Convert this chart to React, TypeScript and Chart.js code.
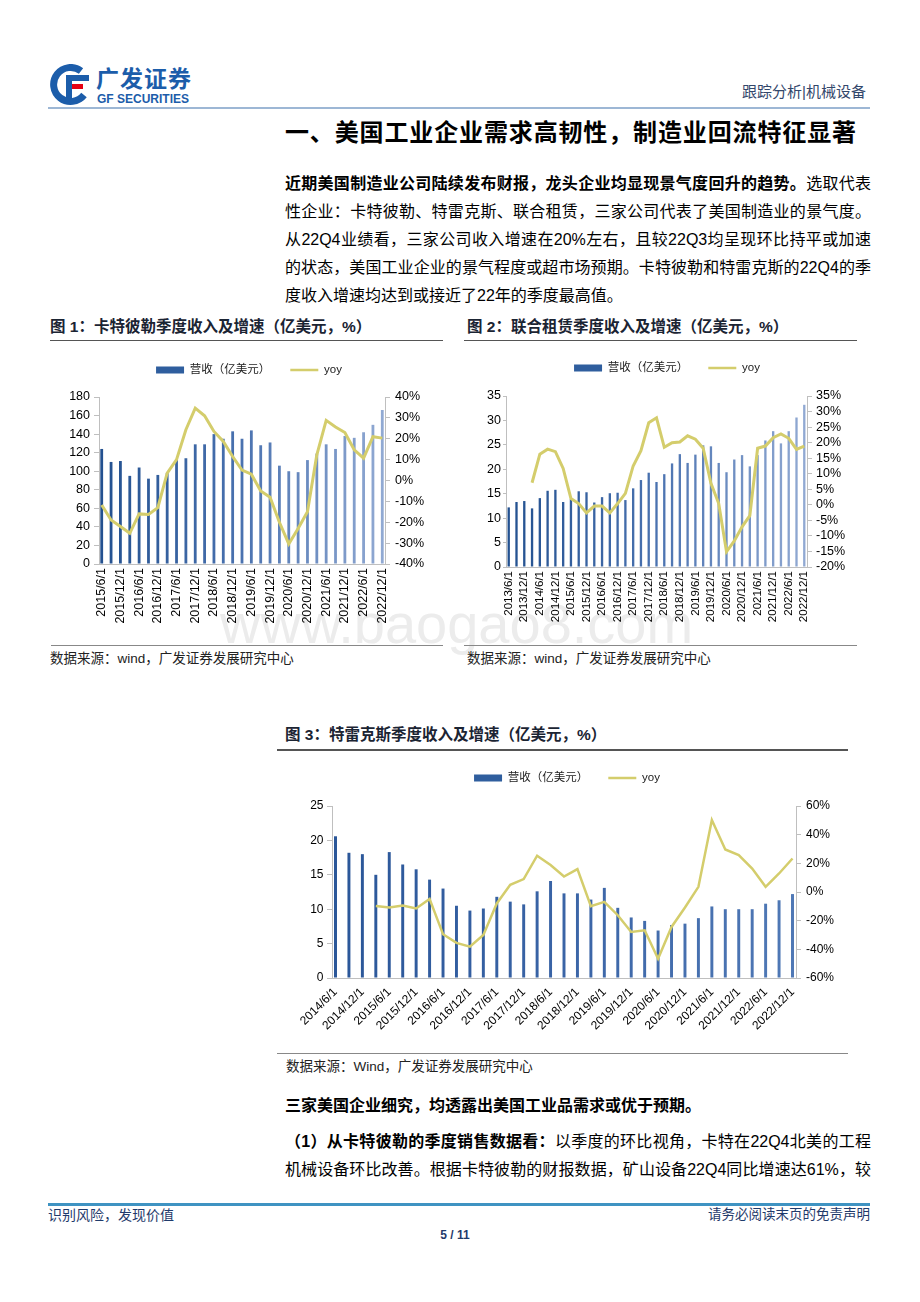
import React, { useEffect, useRef } from 'react';
import { Chart, registerables } from 'chart.js';

Chart.register(...registerables);

// ---------- DATA ----------
const CAT_LABELS = [
  '2015/6/1', '2015/9/1', '2015/12/1',
  '2016/3/1', '2016/6/1', '2016/9/1', '2016/12/1',
  '2017/3/1', '2017/6/1', '2017/9/1', '2017/12/1',
  '2018/3/1', '2018/6/1', '2018/9/1', '2018/12/1',
  '2019/3/1', '2019/6/1', '2019/9/1', '2019/12/1',
  '2020/3/1', '2020/6/1', '2020/9/1', '2020/12/1',
  '2021/3/1', '2021/6/1', '2021/9/1', '2021/12/1',
  '2022/3/1', '2022/6/1', '2022/9/1', '2022/12/1',
];
const CAT_REVENUE = [124, 110, 111, 95, 104, 92, 96, 98, 113, 114, 129, 129, 140, 135, 143, 135, 144, 128, 131, 106, 100, 99, 112, 119, 129, 124, 138, 136, 142, 150, 166];
const CAT_YOY = [-11.7, -18.9, -22, -25.3, -16, -16.3, -13, 3.5, 10, 24.3, 34.7, 31, 23.5, 18.7, 11.5, 5, 3, -5, -8, -20, -30.4, -23, -15, 12.3, 28.8, 25.6, 23, 14.7, 10.7, 21, 20.3];

const URI_LABELS = [
  '2013/6/1', '2013/9/1', '2013/12/1',
  '2014/3/1', '2014/6/1', '2014/9/1', '2014/12/1',
  '2015/3/1', '2015/6/1', '2015/9/1', '2015/12/1',
  '2016/3/1', '2016/6/1', '2016/9/1', '2016/12/1',
  '2017/3/1', '2017/6/1', '2017/9/1', '2017/12/1',
  '2018/3/1', '2018/6/1', '2018/9/1', '2018/12/1',
  '2019/3/1', '2019/6/1', '2019/9/1', '2019/12/1',
  '2020/3/1', '2020/6/1', '2020/9/1', '2020/12/1',
  '2021/3/1', '2021/6/1', '2021/9/1', '2021/12/1',
  '2022/3/1', '2022/6/1', '2022/9/1', '2022/12/1',
];
const URI_REVENUE = [12.2, 13.3, 13.5, 12.0, 14.1, 15.6, 15.8, 13.3, 13.9, 15.5, 15.3, 13.2, 14.3, 15.1, 15.2, 13.7, 16.1, 17.8, 19.3, 17.4, 19.0, 21.2, 23.1, 21.3, 23.0, 24.9, 24.7, 21.3, 19.4, 22.0, 22.9, 20.6, 22.9, 25.9, 27.8, 25.3, 27.8, 30.6, 33.2];
const URI_YOY = [null, null, null, 7.1, 16.3, 17.9, 17.1, 11.7, 2.0, 0.4, -2.6, -0.4, -0.4, -2.6, 0.4, 3.7, 12.5, 17.4, 26.4, 28, 18.5, 20.0, 20.2, 22.2, 21.1, 18.2, 6.9, 0.4, -15.1, -11.6, -7.1, -3.5, 18.2, 18.9, 21.6, 22.8, 21.4, 17.8, 18.9];

const TEX_LABELS = [
  '2014/6/1', '2014/9/1', '2014/12/1',
  '2015/3/1', '2015/6/1', '2015/9/1', '2015/12/1',
  '2016/3/1', '2016/6/1', '2016/9/1', '2016/12/1',
  '2017/3/1', '2017/6/1', '2017/9/1', '2017/12/1',
  '2018/3/1', '2018/6/1', '2018/9/1', '2018/12/1',
  '2019/3/1', '2019/6/1', '2019/9/1', '2019/12/1',
  '2020/3/1', '2020/6/1', '2020/9/1', '2020/12/1',
  '2021/3/1', '2021/6/1', '2021/9/1', '2021/12/1',
  '2022/3/1', '2022/6/1', '2022/9/1', '2022/12/1',
];
const TEX_REVENUE = [20.6, 18.2, 18.0, 15.0, 18.3, 16.5, 15.8, 14.3, 13.0, 10.5, 9.8, 10.1, 11.8, 11.1, 10.7, 12.6, 14.1, 12.3, 12.3, 11.4, 13.1, 10.2, 8.8, 8.3, 6.9, 7.7, 7.9, 8.7, 10.4, 10.0, 10.0, 10.0, 10.8, 11.3, 12.2];
const TEX_YOY = [null, null, null, -9.7, -10.8, -9.4, -11.5, -4.8, -29.5, -35.5, -38.1, -30, -8, 5, 9, 25.3, 18.8, 10.8, 16, -9.9, -6.9, -16.2, -27.9, -26.7, -46.6, -24.4, -10.8, 3.6, 50.2, 29.7, 25.8, 16.4, 3.6, 12.9, 23.4];

const SERIES_REVENUE = '营收（亿美元）';
const SERIES_YOY = 'yoy';

// ---------- STYLE ----------
const LINE_COLOR = '#D4CD6C';
const AXIS_COLOR = '#BFBFBF';
const LEGEND_BAR = '#2F5E9E';
const FONT = '"Liberation Sans", "Noto Sans CJK SC", sans-serif';
const CJK = '"Liberation Sans", "Noto Sans CJK SC", sans-serif';

type Spec = {
  labels: string[];
  revenue: number[];
  yoy: (number | null)[];
  left: number; top: number; width: number; height: number;
  padTop: number; legendGap: number; leftW: number; rightW: number; xH: number;
  yMax: number; yStep: number; rMin: number; rMax: number; rStep: number;
  yFont: number; xFont: number; xRot: number; xPad: number;
  lTick: number; lPad: number; rTick: number; rPad: number;
  barPct: number; edge: number; lineW: number; barStops: string[];
  legendFont: number;
};

const legendGapPlugin = {
  id: 'legendGap',
  beforeLayout(chart: any, _args: any, opts: any) {
    const lg = chart.legend;
    if (lg && !lg.__gapPatched) {
      const orig = lg.fit;
      lg.fit = function () {
        orig.call(this);
        this.height += (opts && opts.gap) || 0;
      };
      lg.__gapPatched = true;
    }
  },
};

function ComboChart({ spec }: { spec: Spec }) {
  const ref = useRef<HTMLCanvasElement | null>(null);
  useEffect(() => {
    const s = spec;
    const n = s.labels.length;
    const barColor = (ctx: any) => {
      const chart = ctx.chart;
      const ca = chart.chartArea;
      if (!ca) return s.barStops[0];
      const g = chart.ctx.createLinearGradient(ca.left, 0, ca.right, 0);
      s.barStops.forEach((c, i) => g.addColorStop(i / (s.barStops.length - 1), c));
      return g;
    };
    const chart = new Chart(ref.current as HTMLCanvasElement, {
      type: 'bar',
      data: {
        labels: s.labels,
        datasets: [
          {
            type: 'bar',
            label: SERIES_REVENUE,
            data: s.revenue,
            yAxisID: 'y',
            backgroundColor: barColor,
            borderWidth: 0,
            barPercentage: s.barPct,
            categoryPercentage: 1,
            order: 2,
          } as any,
          {
            type: 'line',
            label: SERIES_YOY,
            data: s.yoy,
            yAxisID: 'y1',
            borderColor: LINE_COLOR,
            backgroundColor: LINE_COLOR,
            borderWidth: s.lineW,
            pointRadius: 0,
            tension: 0,
            fill: false,
            order: 1,
          } as any,
        ],
      },
      options: {
        responsive: false,
        animation: false,
        events: [],
        layout: { padding: { top: s.padTop, left: 0, right: 0, bottom: 0 } },
        plugins: {
          tooltip: { enabled: false },
          title: { display: false },
          legendGap: { gap: s.legendGap },
          legend: {
            display: true,
            position: 'top',
            labels: {
              usePointStyle: true,
              pointStyleWidth: 28,
              boxWidth: 28,
              boxHeight: 7,
              padding: 20,
              color: '#222',
              font: { family: CJK, size: s.legendFont },
              generateLabels: (c: any) =>
                c.data.datasets.map((ds: any, i: number) => {
                  const isBar = ds.type === 'bar';
                  return {
                    text: ds.label,
                    datasetIndex: i,
                    fillStyle: isBar ? LEGEND_BAR : 'rgba(0,0,0,0)',
                    strokeStyle: isBar ? LEGEND_BAR : LINE_COLOR,
                    lineWidth: isBar ? 0 : 2.5,
                    pointStyle: isBar ? 'rect' : 'line',
                    hidden: false,
                    fontColor: '#222',
                  };
                }),
            },
          },
        } as any,
        scales: {
          x: {
            type: 'category',
            offset: false,
            grid: { display: false, drawTicks: false },
            border: { display: true, color: AXIS_COLOR, width: 1 },
            ticks: {
              autoSkip: false,
              maxRotation: s.xRot,
              minRotation: s.xRot,
              padding: s.xPad,
              color: '#000',
              font: { family: FONT, size: s.xFont },
              callback: function (this: any, v: any, i: number) {
                return i % 2 === 0 ? this.getLabelForValue(v) : '';
              },
            },
            afterBuildTicks: (sc: any) => {
              sc._startValue = -s.edge;
              sc._valueRange = n - 1 + 2 * s.edge;
            },
            afterFit: (sc: any) => {
              sc.height = s.xH;
            },
          } as any,
          y: {
            position: 'left',
            min: 0,
            max: s.yMax,
            ticks: { stepSize: s.yStep, autoSkip: false, padding: s.lPad, color: '#000', font: { family: FONT, size: s.yFont } },
            grid: { display: true, drawOnChartArea: false, drawTicks: true, tickLength: s.lTick, color: AXIS_COLOR },
            border: { display: true, color: AXIS_COLOR, width: 1 },
            afterFit: (sc: any) => {
              sc.width = s.leftW;
            },
          } as any,
          y1: {
            position: 'right',
            min: s.rMin,
            max: s.rMax,
            ticks: {
              stepSize: s.rStep,
              autoSkip: false,
              padding: s.rPad,
              color: '#000',
              font: { family: FONT, size: s.yFont },
              callback: (v: any) => `${v}%`,
            },
            grid: { display: true, drawOnChartArea: false, drawTicks: true, tickLength: s.rTick, color: AXIS_COLOR },
            border: { display: true, color: AXIS_COLOR, width: 1 },
            afterFit: (sc: any) => {
              sc.width = s.rightW;
            },
          } as any,
        },
      },
      plugins: [legendGapPlugin as any],
    });
    return () => chart.destroy();
  }, [spec]);
  return (
    <canvas
      ref={ref}
      width={spec.width}
      height={spec.height}
      style={{ position: 'absolute', left: spec.left, top: spec.top, width: spec.width, height: spec.height, display: 'block' }}
    />
  );
}

const SPEC1: Spec = {
  labels: CAT_LABELS, revenue: CAT_REVENUE, yoy: CAT_YOY,
  left: 52, top: 340, width: 394, height: 298,
  padTop: 4.25, legendGap: 11.25, leftW: 47, rightW: 61, xH: 74,
  yMax: 180, yStep: 20, rMin: -40, rMax: 40, rStep: 10,
  yFont: 12.5, xFont: 12.5, xRot: 90, xPad: 4,
  lTick: 5, lPad: 4, rTick: 5, rPad: 5,
  barPct: 0.3, edge: 0.29, lineW: 3, barStops: ['#22508F', '#4A72B0', '#92AAD3'],
  legendFont: 11.5,
};
const SPEC2: Spec = {
  labels: URI_LABELS, revenue: URI_REVENUE, yoy: URI_YOY,
  left: 462, top: 340, width: 410, height: 298,
  padTop: 2.25, legendGap: 12.25, leftW: 44, rightW: 65, xH: 71,
  yMax: 35, yStep: 5, rMin: -20, rMax: 35, rStep: 5,
  yFont: 12.5, xFont: 11.5, xRot: 90, xPad: 4,
  lTick: 3, lPad: 2, rTick: 5, rPad: 4,
  barPct: 0.3, edge: 0.35, lineW: 3, barStops: ['#22508F', '#4A72B0', '#92AAD3'],
  legendFont: 11.5,
};
const SPEC3: Spec = {
  labels: TEX_LABELS, revenue: TEX_REVENUE, yoy: TEX_YOY,
  left: 290, top: 750, width: 554, height: 300,
  padTop: 2.25, legendGap: 12.25, leftW: 42, rightW: 48, xH: 72,
  yMax: 25, yStep: 5, rMin: -60, rMax: 60, rStep: 20,
  yFont: 12, xFont: 12, xRot: 45, xPad: 7,
  lTick: 5, lPad: 3.5, rTick: 5, rPad: 5,
  barPct: 0.22, edge: 0.26, lineW: 2.5, barStops: ['#2A5698', '#3A64A6', '#5079B6'],
  legendFont: 11.5,
};

// ---------- PAGE ----------
const abs = (left: number, top: number, extra: React.CSSProperties = {}): React.CSSProperties => ({
  position: 'absolute',
  left,
  top,
  ...extra,
});

function TextLine({ left, cy, width, size, children, bold, justify, color, h }: any) {
  const lh = h || Math.round(size * 1.4);
  return (
    <div
      style={abs(left, cy - lh / 2, {
        width,
        height: lh,
        lineHeight: `${lh}px`,
        fontSize: size,
        fontWeight: bold ? 700 : 400,
        color: color || '#000',
        fontFamily: CJK,
        textAlign: justify ? 'justify' : 'left',
        textAlignLast: justify ? 'justify' : 'auto',
        overflow: 'visible',
      } as React.CSSProperties)}
    >
      {children}
    </div>
  );
}

function Rule({ left, top, width, height, color }: any) {
  return <div style={abs(left, top, { width, height, background: color })} />;
}

export default function App() {
  return (
    <div style={{ position: 'absolute', left: 0, top: 0, width: 920, height: 1302, background: '#fff', overflow: 'hidden', fontFamily: CJK }}>
      {/* watermark */}
      <div style={abs(220, 596, { fontFamily: '"Liberation Sans", sans-serif', fontSize: 56, lineHeight: '56px', color: '#ececec', whiteSpace: 'nowrap' })}>
        www.baogao8.com
      </div>

      {/* header */}
      <svg style={abs(48, 64)} width="46" height="42" viewBox="0 0 46 42">
        <path d="M33 7 A17 17 0 1 0 36 31" stroke="#1C5DAA" strokeWidth="7" fill="none" />
        <rect x="18" y="11" width="23" height="6" fill="#1C5DAA" />
        <rect x="18" y="20" width="17" height="5" fill="#E60012" />
        <rect x="18" y="11" width="6" height="26" fill="#1C5DAA" />
      </svg>
      <div style={abs(96, 66, { fontSize: 23, lineHeight: '27px', fontWeight: 700, color: '#1C5DAA', letterSpacing: 1, fontFamily: CJK, whiteSpace: 'nowrap' })}>
        广发证券
      </div>
      <div style={abs(97, 93, { fontSize: 12, lineHeight: '12px', fontWeight: 700, color: '#1C5DAA', fontFamily: '"Liberation Sans", sans-serif', whiteSpace: 'nowrap' })}>
        GF SECURITIES
      </div>
      <div style={abs(600, 81, { width: 266, textAlign: 'right', fontSize: 15, lineHeight: '22px', color: '#33476B', whiteSpace: 'nowrap' })}>
        跟踪分析|机械设备
      </div>
      <Rule left={48} top={107} width={822} height={1.5} color="#9DB7D5" />

      {/* heading */}
      <TextLine left={285} cy={133} width={571} size={24} bold justify h={32}>
        一、美国工业企业需求高韧性，制造业回流特征显著
      </TextLine>

      {/* paragraph */}
      <TextLine left={285} cy={184} width={586} size={16} justify h={24}>
        <b>近期美国制造业公司陆续发布财报，龙头企业均显现景气度回升的趋势。</b>选取代表
      </TextLine>
      <TextLine left={285} cy={212} width={586} size={16} justify h={24}>
        性企业：卡特彼勒、特雷克斯、联合租赁，三家公司代表了美国制造业的景气度。
      </TextLine>
      <TextLine left={285} cy={240} width={586} size={16} justify h={24}>
        从22Q4业绩看，三家公司收入增速在20%左右，且较22Q3均呈现环比持平或加速
      </TextLine>
      <TextLine left={285} cy={268} width={586} size={16} justify h={24}>
        的状态，美国工业企业的景气程度或超市场预期。卡特彼勒和特雷克斯的22Q4的季
      </TextLine>
      <TextLine left={285} cy={296} width={586} size={16} h={24}>
        度收入增速均达到或接近了22年的季度最高值。
      </TextLine>

      {/* figure 1 & 2 titles */}
      <TextLine left={50} cy={327} width={400} size={15.5} bold color="#1B2433" h={22}>
        图 1：卡特彼勒季度收入及增速（亿美元，%）
      </TextLine>
      <Rule left={50} top={339.5} width={393} height={1.5} color="#555" />
      <TextLine left={467} cy={327} width={400} size={15.5} bold color="#1B2433" h={22}>
        图 2：联合租赁季度收入及增速（亿美元，%）
      </TextLine>
      <Rule left={464} top={339.5} width={393} height={1.5} color="#555" />

      <ComboChart spec={SPEC1} />
      <ComboChart spec={SPEC2} />

      <Rule left={51} top={645} width={392} height={1} color="#888" />
      <TextLine left={50} cy={659} width={400} size={13.5} color="#222" h={20}>
        数据来源：wind，广发证券发展研究中心
      </TextLine>
      <Rule left={464} top={645} width={393} height={1} color="#888" />
      <TextLine left={467} cy={659} width={400} size={13.5} color="#222" h={20}>
        数据来源：wind，广发证券发展研究中心
      </TextLine>

      {/* figure 3 */}
      <TextLine left={285} cy={735} width={560} size={15.5} bold color="#1B2433" h={22}>
        图 3：特雷克斯季度收入及增速（亿美元，%）
      </TextLine>
      <Rule left={277} top={749} width={571} height={1.5} color="#555" />
      <ComboChart spec={SPEC3} />
      <Rule left={277} top={1053} width={571} height={1} color="#888" />
      <TextLine left={286} cy={1067} width={500} size={13.5} color="#222" h={20}>
        数据来源：Wind，广发证券发展研究中心
      </TextLine>

      {/* following text */}
      <TextLine left={285} cy={1106} width={586} size={16} bold h={24}>
        三家美国企业细究，均透露出美国工业品需求或优于预期。
      </TextLine>
      <TextLine left={285} cy={1142} width={586} size={16} justify h={24}>
        <b>（1）从卡特彼勒的季度销售数据看：</b>以季度的环比视角，卡特在22Q4北美的工程
      </TextLine>
      <TextLine left={285} cy={1170} width={586} size={16} justify h={24}>
        机械设备环比改善。根据卡特彼勒的财报数据，矿山设备22Q4同比增速达61%，较
      </TextLine>

      {/* footer */}
      <Rule left={48} top={1203} width={822} height={2.5} color="#3F93C2" />
      <TextLine left={48} cy={1215} width={300} size={14} color="#1F3A6B" h={20}>
        识别风险，发现价值
      </TextLine>
      <div style={abs(570, 1205, { width: 300, textAlign: 'right', fontSize: 13.5, lineHeight: '20px', color: '#1F3A6B', whiteSpace: 'nowrap' })}>
        请务必阅读末页的免责声明
      </div>
      <div style={abs(405, 1226, { width: 100, textAlign: 'center', fontSize: 12, lineHeight: '18px', fontWeight: 700, color: '#1F3A6B', fontFamily: '"Liberation Sans", sans-serif' })}>
        5 / 11
      </div>
    </div>
  );
}
